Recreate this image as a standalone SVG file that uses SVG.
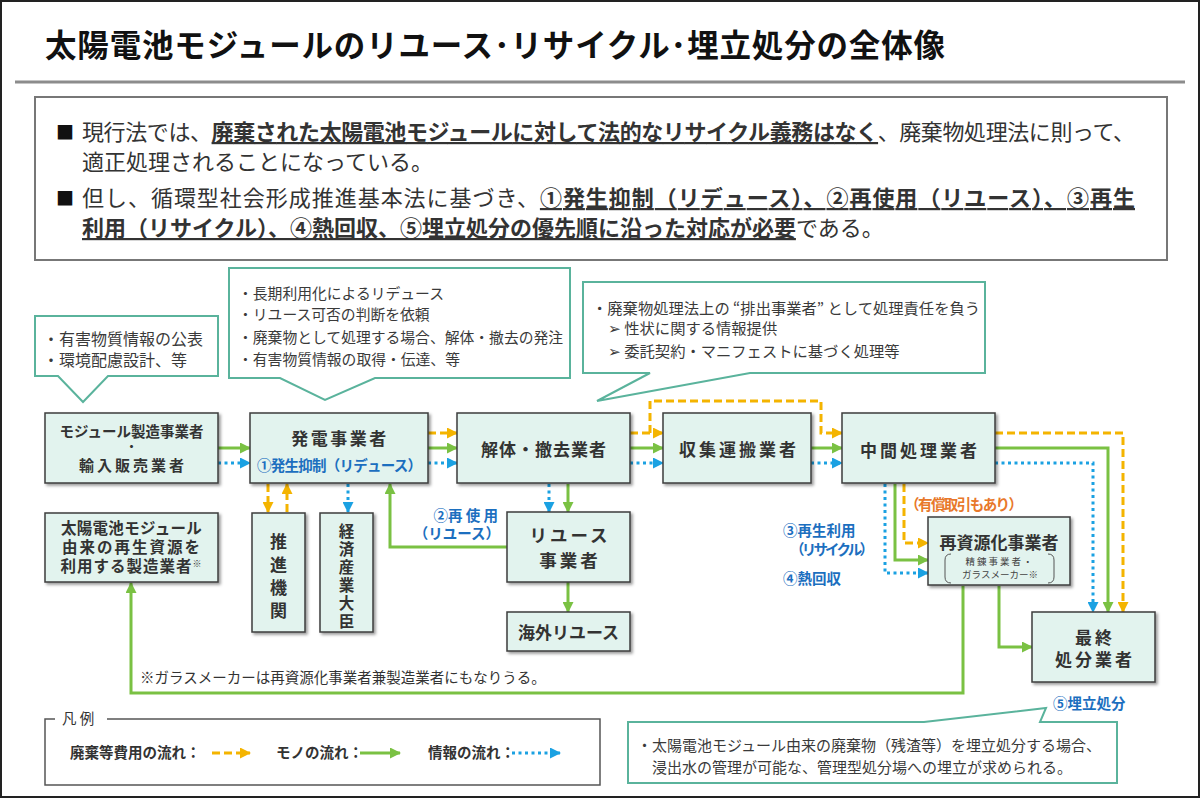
<svg xmlns="http://www.w3.org/2000/svg" width="1200" height="800" viewBox="0 0 1200 800">
<style>
text{font-family:"Noto Sans CJK JP","Noto Sans","DejaVu Sans",sans-serif;fill:#333}
.b{font-weight:700}
.u{font-weight:700;text-decoration:underline}
.nt{font-weight:700;text-anchor:middle;fill:#333}
.vt{font-weight:700;fill:#333;writing-mode:vertical-rl;text-orientation:upright}
.nd{fill:#e2f3ee;stroke:#3c3c3c;stroke-width:1.5;filter:url(#sh)}
.co{fill:#fff;stroke:#5ab39c;stroke-width:2}
.ct{font-size:14.8px;fill:#3a3a3a}
.lbl{font-weight:700;fill:#1c6fbf;font-size:14.5px}
.orl{font-weight:700;fill:#e8782a;font-size:14.5px}
.or{fill:none;stroke:#f4b400;stroke-width:3;stroke-dasharray:8 4}
.gr{fill:none;stroke:#7ac143;stroke-width:3}
.bl{fill:none;stroke:#1ba1e2;stroke-width:3;stroke-dasharray:3 3.5}
.dk{fill:#111}
.sm{font-size:9.5px;fill:#444;text-anchor:middle}
</style>
<defs>
<filter id="sh" x="-10%" y="-10%" width="130%" height="130%"><feDropShadow dx="2" dy="2" stdDeviation="1.5" flood-color="#000" flood-opacity="0.4"/></filter>
<marker id="ao" markerWidth="11" markerHeight="11" refX="10" refY="5.5" orient="auto" markerUnits="userSpaceOnUse"><path d="M0,0 L11,5.5 L0,11 Z" fill="#f4b400"/></marker>
<marker id="ag" markerWidth="11" markerHeight="11" refX="10" refY="5.5" orient="auto" markerUnits="userSpaceOnUse"><path d="M0,0 L11,5.5 L0,11 Z" fill="#7ac143"/></marker>
<marker id="ab" markerWidth="11" markerHeight="11" refX="10" refY="5.5" orient="auto" markerUnits="userSpaceOnUse"><path d="M0,0 L11,5.5 L0,11 Z" fill="#1ba1e2"/></marker>
</defs>
<rect x="0" y="0" width="1200" height="800" fill="#fff"/>
<rect x="1" y="1" width="1198" height="796" fill="none" stroke="#222" stroke-width="2"/>

<text x="45" y="57" class="b dk" font-size="31.5" textLength="900">太陽電池モジュールのリユース･リサイクル･埋立処分の全体像</text>
<line x1="15" y1="82" x2="1185" y2="82" stroke="#8c8c8c" stroke-width="3"/>

<g id="summary">
<rect x="35" y="97" width="1132" height="163" fill="#fff" stroke="#777" stroke-width="2"/>
<text x="56" y="139" font-size="18" class="dk">■</text>
<text x="82" y="140" font-size="22" textLength="1053">現行法では、<tspan class="u">廃棄された太陽電池モジュールに対して法的なリサイクル義務はなく</tspan>、廃棄物処理法に則って、</text>
<text x="82" y="170" font-size="22">適正処理されることになっている。</text>
<text x="56" y="205" font-size="18" class="dk">■</text>
<text x="82" y="206" font-size="22" textLength="1053">但し、循環型社会形成推進基本法に基づき、<tspan class="u">①発生抑制（リデュース）、②再使用（リユース）、③再生</tspan></text>
<text x="82" y="236" font-size="22"><tspan class="u">利用（リサイクル）、④熱回収、⑤埋立処分の優先順に沿った対応が必要</tspan>である。</text>
</g>

<g id="callouts">
<path class="co" d="M35,316 H218 V376 H108 L83,402 L58,376 H35 Z"/>
<text class="ct" x="43" y="345" style="font-size:16px">・有害物質情報の公表</text>
<text class="ct" x="43" y="366" style="font-size:16px">・環境配慮設計、等</text>
<path class="co" d="M229,268 H570 V378 H375 L325,400 L280,378 H229 Z"/>
<text class="ct" x="238" y="299">・長期利用化によるリデュース</text>
<text class="ct" x="238" y="320">・リユース可否の判断を依頼</text>
<text class="ct" x="238" y="343">・廃棄物として処理する場合、解体・撤去の発注</text>
<text class="ct" x="238" y="365">・有害物質情報の取得・伝達、等</text>
<path class="co" d="M583,282 H985 V373 H750 L597,401 L650,373 H583 Z"/>
<text class="ct" x="592" y="314" style="font-size:15.3px">・廃棄物処理法上の “排出事業者” として処理責任を負う</text>
<text class="ct" x="608" y="334" style="font-size:15.3px">➢ 性状に関する情報提供</text>
<text class="ct" x="608" y="357" style="font-size:15.3px">➢ 委託契約・マニフェストに基づく処理等</text>
<path class="co" d="M628,722 H924 L1046,708 L1040,722 H1117 V783 H628 Z"/>
<text class="ct" x="637" y="751" style="font-size:15px">・太陽電池モジュール由来の廃棄物（残渣等）を埋立処分する場合、</text>
<text class="ct" x="652" y="773" style="font-size:15px">浸出水の管理が可能な、管理型処分場への埋立が求められる。</text>
</g>

<g id="connectors">
<line class="gr" x1="218" y1="448" x2="250" y2="448" marker-end="url(#ag)"/>
<line class="bl" x1="218" y1="463" x2="250" y2="463" marker-end="url(#ab)"/>
<line class="or" x1="428" y1="433" x2="457" y2="433" marker-end="url(#ao)"/>
<line class="gr" x1="428" y1="448" x2="457" y2="448" marker-end="url(#ag)"/>
<line class="bl" x1="428" y1="463" x2="457" y2="463" marker-end="url(#ab)"/>
<line class="or" x1="268" y1="484" x2="268" y2="512" marker-end="url(#ao)"/>
<line class="or" x1="287" y1="512" x2="287" y2="484" marker-end="url(#ao)"/>
<line class="bl" x1="348" y1="484" x2="348" y2="512" marker-end="url(#ab)"/>
<polyline class="gr" points="507,547 390,547 390,484" marker-end="url(#ag)"/>
<line class="bl" x1="549" y1="484" x2="549" y2="512" marker-end="url(#ab)"/>
<line class="gr" x1="568" y1="484" x2="568" y2="512" marker-end="url(#ag)"/>
<line class="gr" x1="568" y1="582" x2="568" y2="612" marker-end="url(#ag)"/>
<line class="or" x1="630" y1="433" x2="663" y2="433" marker-end="url(#ao)"/>
<polyline class="or" points="650,433 650,401 821,401 821,433 842,433" marker-end="url(#ao)"/>
<line class="gr" x1="630" y1="448" x2="663" y2="448" marker-end="url(#ag)"/>
<line class="bl" x1="630" y1="463" x2="663" y2="463" marker-end="url(#ab)"/>
<line class="gr" x1="811" y1="448" x2="842" y2="448" marker-end="url(#ag)"/>
<line class="bl" x1="811" y1="463" x2="842" y2="463" marker-end="url(#ab)"/>
<polyline class="or" points="995,433 1123,433 1123,612" marker-end="url(#ao)"/>
<polyline class="gr" points="995,448 1108,448 1108,612" marker-end="url(#ag)"/>
<polyline class="bl" points="995,463 1093,463 1093,612" marker-end="url(#ab)"/>
<polyline class="bl" points="885,484 885,573 928,573" marker-end="url(#ab)"/>
<polyline class="gr" points="895,484 895,560 928,560" marker-end="url(#ag)"/>
<polyline class="or" points="904,484 904,543 928,543" marker-end="url(#ao)"/>
<polyline class="gr" points="963,586 963,693 131,693 131,583" marker-end="url(#ag)"/>
<polyline class="gr" points="999,586 999,647 1032,647" marker-end="url(#ag)"/>
</g>

<g id="labels">
<text class="lbl" x="498" y="521" text-anchor="end">②再 使 用</text>
<text class="lbl" x="500" y="539" text-anchor="end">（リユース）</text>
<text class="lbl" x="783" y="536">③再生利用</text>
<text class="lbl" x="790" y="555" textLength="84">（リサイクル）</text>
<text class="lbl" x="783" y="584">④熱回収</text>
<text class="orl" x="905" y="510" textLength="118">（有償取引もあり）</text>
<text class="lbl" x="1053" y="709">⑤埋立処分</text>
<text x="140" y="683" font-size="14.5">※ガラスメーカーは再資源化事業者兼製造業者にもなりうる。</text>
</g>

<g id="n-module">
<rect class="nd" x="45" y="413" width="173" height="70"/>
<text class="nt" font-size="14.5"><tspan x="131.5" y="437">モジュール製造事業者</tspan><tspan x="131.5" y="452" font-size="12">・</tspan><tspan x="133" y="471" font-size="15" letter-spacing="3">輸入販売業者</tspan></text>
</g>
<g id="n-hatsuden">
<rect class="nd" x="250" y="413" width="178" height="70"/>
<text class="nt" x="340" y="444.5" font-size="17" letter-spacing="2.5">発電事業者</text>
<text class="lbl" x="257" y="470.5" textLength="165">①発生抑制（リデュース）</text>
</g>
<g id="n-kaitai">
<rect class="nd" x="457" y="413" width="173" height="70"/>
<text class="nt" x="544" y="455.5" font-size="17" letter-spacing="1">解体・撤去業者</text>
</g>
<g id="n-shushu">
<rect class="nd" x="663" y="413" width="148" height="70"/>
<text class="nt" x="739" y="455.5" font-size="17" letter-spacing="3">収集運搬業者</text>
</g>
<g id="n-chukan">
<rect class="nd" x="842" y="413" width="153" height="70"/>
<text class="nt" x="920" y="456.5" font-size="17" letter-spacing="3">中間処理業者</text>
</g>
<g id="n-seizou">
<rect class="nd" x="45" y="513" width="173" height="69"/>
<text class="nt" font-size="15.5"><tspan x="131.5" y="534" letter-spacing="0.3">太陽電池モジュール</tspan><tspan x="132" y="553" letter-spacing="2">由来の再生資源を</tspan><tspan x="131.5" y="572" letter-spacing="1">利用する製造業者<tspan font-size="9" dy="-5">※</tspan></tspan></text>
</g>
<g id="n-suishin">
<rect class="nd" x="252" y="513" width="53" height="119"/>
<text class="vt" x="278.5" y="533" font-size="17" letter-spacing="6">推進機関</text>
</g>
<g id="n-keisan">
<rect class="nd" x="320" y="513" width="53" height="119"/>
<text class="vt" x="346.5" y="523" font-size="15.5" letter-spacing="2.5">経済産業大臣</text>
</g>
<g id="n-reuse">
<rect class="nd" x="507" y="512" width="123" height="70"/>
<text class="nt" font-size="17.5" letter-spacing="3"><tspan x="570" y="541.5">リユース</tspan><tspan x="570" y="566.5">事業者</tspan></text>
</g>
<g id="n-kaigai">
<rect class="nd" x="507" y="612" width="123" height="39"/>
<text class="nt" x="568.5" y="639" font-size="17">海外リユース</text>
</g>
<g id="n-shigenka">
<rect class="nd" x="928" y="517" width="142" height="68"/>
<text class="nt" x="999" y="548.5" font-size="17">再資源化事業者</text>
<path d="M951,554 Q945,554 945,560 L945,577 Q945,583 951,583" fill="none" stroke="#555" stroke-width="1"/>
<path d="M1048,554 Q1054,554 1054,560 L1054,577 Q1054,583 1048,583" fill="none" stroke="#555" stroke-width="1"/>
<text class="sm"><tspan x="1000" y="564.5" letter-spacing="2">精錬事業者・</tspan><tspan x="1000" y="578">ガラスメーカー※</tspan></text>
</g>
<g id="n-saishu">
<rect class="nd" x="1032" y="612" width="123" height="70"/>
<text class="nt" font-size="17" letter-spacing="3"><tspan x="1095" y="643.5">最終</tspan><tspan x="1095" y="665.5">処分業者</tspan></text>
</g>

<g id="legend">
<rect x="45" y="719" width="555" height="66" fill="none" stroke="#555" stroke-width="1.5"/>
<rect x="55" y="710" width="52" height="16" fill="#fff"/>
<text x="62" y="724" font-size="14.5">凡 例</text>
<text class="b" x="70" y="758" font-size="14.5">廃棄等費用の流れ：</text>
<line class="or" x1="212" y1="753" x2="250" y2="753" marker-end="url(#ao)"/>
<text class="b" x="276" y="758" font-size="14.5">モノの流れ：</text>
<line class="gr" x1="360" y1="753" x2="400" y2="753" marker-end="url(#ag)"/>
<text class="b" x="428" y="758" font-size="14.5">情報の流れ：</text>
<line class="bl" x1="512" y1="753" x2="560" y2="753" marker-end="url(#ab)"/>
</g>
</svg>
